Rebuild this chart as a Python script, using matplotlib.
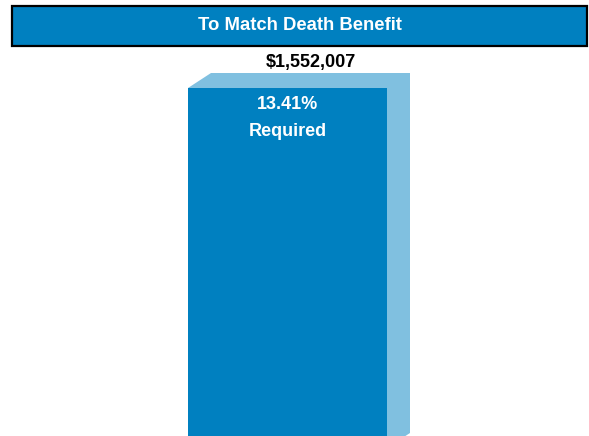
import numpy as np
import matplotlib
matplotlib.use('Agg')
import matplotlib.pyplot as plt
from matplotlib.patches import Rectangle, Polygon

plt.rcParams['font.family'] = ['Liberation Sans', 'DejaVu Sans']

title = 'To Match Death Benefit'
categories = ['Required']
values = [1552007]
value_labels = ['$1,552,007']
rate_labels = ['13.41%']

front = '#0080c0'
side = '#80c0e0'
W, H = 589, 436

fig = plt.figure(figsize=(W / 100, H / 100), dpi=100)

# title box
fig.patches.append(Rectangle((12 / W, 1 - 46 / H), 575 / W, 40 / H,
                             transform=fig.transFigure, facecolor=front,
                             edgecolor='black', linewidth=1.6))
fig.text(300 / W, 1 - 25 / H, title, color='white', fontsize=13.3,
         fontweight='bold', ha='center', va='center')

# axes, bottom slightly below the figure edge
ax_bot, ax_top = 448, 46
ax = fig.add_axes([0, 1 - ax_bot / H, 1, (ax_bot - ax_top) / H])
ax.set_axis_off()
ymax = values[0] * (ax_bot - ax_top) / (ax_bot - 88)
ax.set_ylim(0, ymax)
ax.set_xlim(-0.5 - 188 / 199, 0.5 + (W - 387) / 199)

x = np.arange(len(values))
width = 1.0
# depth of the 3D box in pixels -> data units
dx_px, dy_px = 23, 15
dx = dx_px * (ax.get_xlim()[1] - ax.get_xlim()[0]) / W
dy = dy_px * ymax / (ax_bot - ax_top)

for xi, v in zip(x, values):
    x0, x1 = xi - width / 2, xi + width / 2
    hexagon = [(x0, v), (x0 + dx, v + dy), (x1 + dx, v + dy),
               (x1 + dx, dy), (x1, 0), (x1, v)]
    ax.add_patch(Polygon(hexagon, closed=True, facecolor=side,
                         edgecolor='none'))
bars = ax.bar(x, values, width=width, color=front, edgecolor='none')

for xi, v, vl, rl, cat in zip(x, values, value_labels, rate_labels, categories):
    ax.annotate(vl, (xi + dx, v + dy), xytext=(0, 1.5),
                textcoords='offset points', ha='center', va='bottom',
                fontsize=13, fontweight='bold', color='black')
    ax.annotate(rl, (xi, v), xytext=(0, -11.7), textcoords='offset points',
                ha='center', va='center', fontsize=13, fontweight='bold',
                color='white')
    ax.annotate(cat, (xi, v), xytext=(0, -31), textcoords='offset points',
                ha='center', va='center', fontsize=13, fontweight='bold',
                color='white')

fig.savefig('out.png', dpi=100)
